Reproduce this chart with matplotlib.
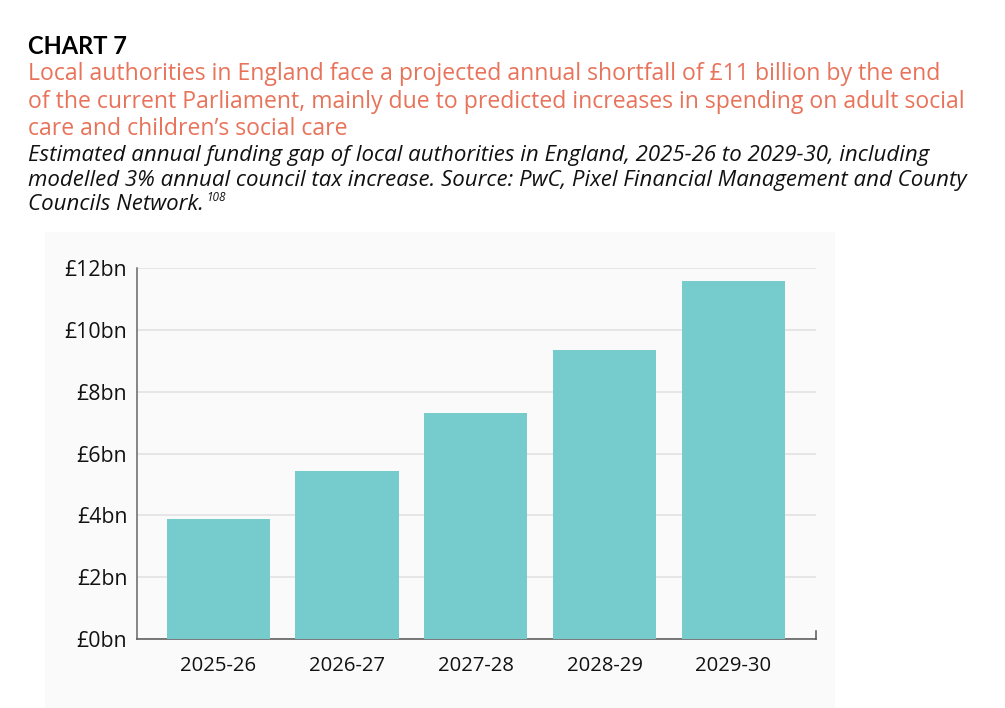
import matplotlib.pyplot as plt
from matplotlib.patches import Rectangle

# data
years = ["2025-26", "2026-27", "2027-28", "2028-29", "2029-30"]
gap_bn = [3.87, 5.43, 7.31, 9.35, 11.58]
yticks = [0, 2, 4, 6, 8, 10, 12]
ytick_labels = ["£{}bn".format(v) for v in yticks]

title = "CHART 7"
subtitle_lines = ["Local authorities in England face a projected annual shortfall of £11 billion by the end",
                  "of the current Parliament, mainly due to predicted increases in spending on adult social",
                  "care and children\u2019s social care"]
note_lines = ["Estimated annual funding gap of local authorities in England, 2025-26 to 2029-30, including",
              "modelled 3% annual council tax increase. Source: PwC, Pixel Financial Management and County",
              "Councils Network."]

plt.rcParams['font.family'] = ['Open Sans', 'DejaVu Sans']

W, H = 1005, 708
fig = plt.figure(figsize=(W / 100, H / 100), dpi=100)
fig.patch.set_facecolor("white")

# light panel behind the chart
fig.patches.append(Rectangle((45 / W, 0.0), (835 - 45) / W, (708 - 232) / H,
                             transform=fig.transFigure, facecolor="#fafafa",
                             edgecolor="none", zorder=-5))

ax = fig.add_axes([137 / W, (H - 639) / H, (816 - 137) / W, (639 - 268) / H])
ax.set_facecolor("none")

x = list(range(len(years)))
ax.bar(x, gap_bn, width=0.8, color="#76cbcc", zorder=3)

ax.set_ylim(0, 12)
ax.set_xlim(-0.63, 4.64)
ax.set_yticks(yticks)
ax.set_yticklabels(ytick_labels, fontsize=15.3)
ax.set_xticks(x)
ax.set_xticklabels(years, fontsize=14.6)
ax.tick_params(axis="both", length=0, colors="#111111")
ax.tick_params(axis="y", pad=7)
ax.tick_params(axis="x", pad=12)

ax.grid(axis="y", color="#e2e2e2", linewidth=1.2, zorder=0)
for s in ["top", "right"]:
    ax.spines[s].set_visible(False)
ax.spines["left"].set_color("#666666")
ax.spines["bottom"].set_color("#555555")
ax.spines["left"].set_linewidth(1.1)
ax.spines["bottom"].set_linewidth(1.1)
# little tick at the right end of the x axis
ax.axvline(4.64, ymin=0, ymax=0.022, color="#555555", linewidth=1.1, clip_on=False)

fig.text(28 / W, 1 - 46 / H, title, fontsize=17, fontfamily="Lato", fontweight="bold",
         color="#000000", va="center")
for i, line in enumerate(subtitle_lines):
    fig.text(28 / W, 1 - (74 + 27.5 * i) / H, line, fontsize=16.6, color="#e8735a", va="center")
last = None
for i, line in enumerate(note_lines):
    last = fig.text(28 / W, 1 - (156 + 24.5 * i) / H, line, fontsize=16, style="italic",
                    color="#111111", va="center")

# superscript reference number right after the last note line
r = fig.canvas.get_renderer()
bb = last.get_window_extent(renderer=r)
fig.text((bb.x1 + 2) / W, 1 - 198 / H, "108", fontsize=8.5, style="italic", color="#111111", va="center")

fig.savefig("out.png", dpi=100)
